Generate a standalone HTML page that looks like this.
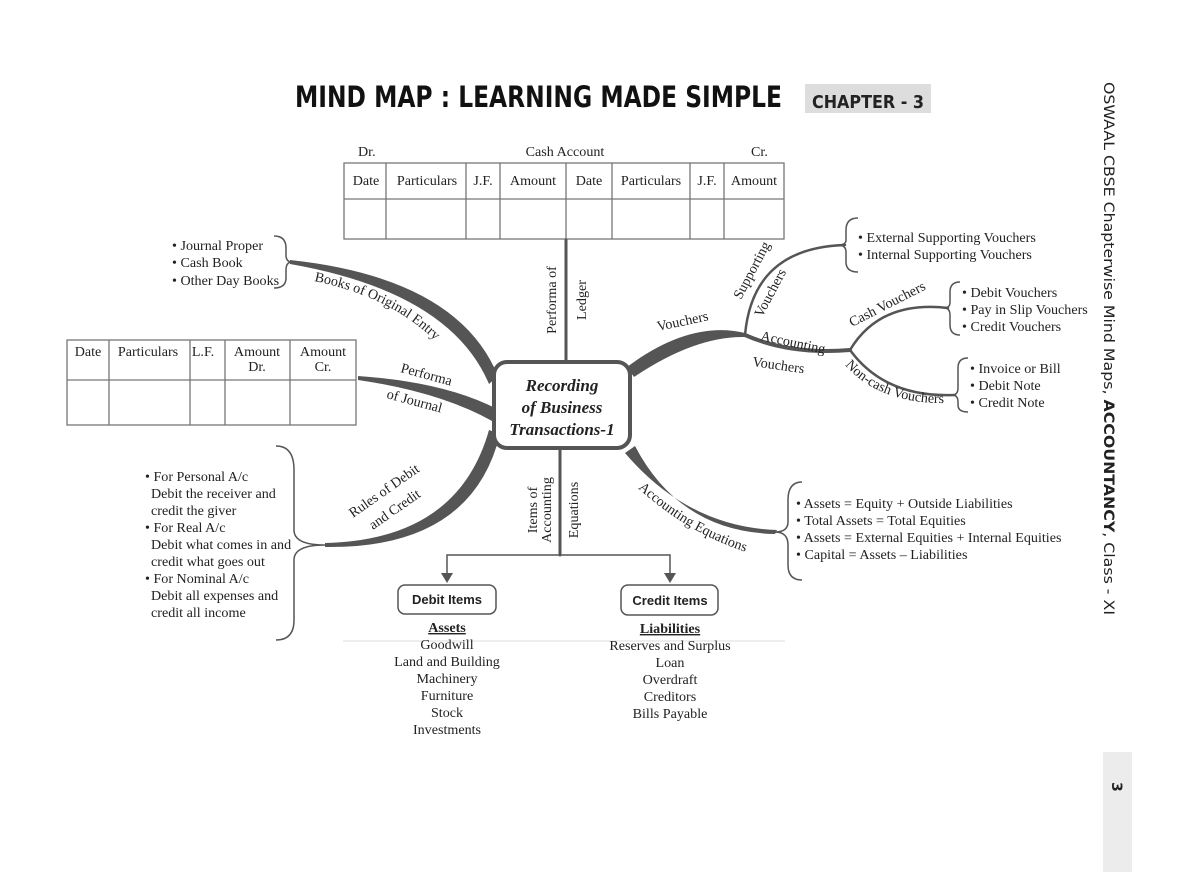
<!DOCTYPE html>
<html><head><meta charset="utf-8"><style>
html,body{margin:0;padding:0;background:#fff;}
svg{display:block;}
.t{font-family:"Liberation Serif",serif;font-size:14.1px;fill:#222;}
.c{text-anchor:middle;}
</style></head><body>
<svg width="1200" height="872" viewBox="0 0 1200 872" xmlns="http://www.w3.org/2000/svg">
<text x="295" y="107" font-family="DejaVu Sans, sans-serif" font-weight="bold" font-size="29" fill="#111" textLength="487" lengthAdjust="spacingAndGlyphs">MIND MAP : LEARNING MADE SIMPLE</text>
<rect x="805" y="84" width="126" height="29" fill="#ddd"/>
<text x="812" y="108" font-family="DejaVu Sans, sans-serif" font-weight="bold" font-size="18" fill="#222" textLength="112" lengthAdjust="spacingAndGlyphs">CHAPTER - 3</text>
<text transform="translate(1104,82) rotate(90)" font-family="DejaVu Sans, sans-serif" font-size="14" fill="#222" textLength="533" lengthAdjust="spacingAndGlyphs">OSWAAL CBSE Chapterwise Mind Maps, <tspan font-weight="bold">ACCOUNTANCY</tspan>, Class - XI</text>
<rect x="1103" y="752" width="29" height="120" fill="#ececec"/>
<text transform="translate(1112,782) rotate(90)" font-family="DejaVu Sans, sans-serif" font-weight="bold" font-size="14" fill="#222">3</text>

<g class="t">
<text x="358" y="156">Dr.</text><text x="565" y="156" class="c">Cash Account</text><text x="751" y="156">Cr.</text>
</g>
<g fill="none" stroke="#777" stroke-width="1.3">
<rect x="344" y="163" width="440" height="76"/>
<line x1="344" y1="199" x2="784" y2="199"/>
<line x1="386" y1="163" x2="386" y2="239"/><line x1="466" y1="163" x2="466" y2="239"/>
<line x1="500" y1="163" x2="500" y2="239"/><line x1="566" y1="163" x2="566" y2="239"/>
<line x1="612" y1="163" x2="612" y2="239"/><line x1="690" y1="163" x2="690" y2="239"/>
<line x1="724" y1="163" x2="724" y2="239"/>
</g>
<g class="t c">
<text x="366" y="185">Date</text><text x="427" y="185">Particulars</text><text x="483" y="185">J.F.</text><text x="533" y="185">Amount</text>
<text x="589" y="185">Date</text><text x="651" y="185">Particulars</text><text x="707" y="185">J.F.</text><text x="754" y="185">Amount</text>
</g>

<g fill="none" stroke="#777" stroke-width="1.3">
<rect x="67" y="340" width="289" height="85"/>
<line x1="67" y1="380" x2="356" y2="380"/>
<line x1="109" y1="340" x2="109" y2="425"/><line x1="190" y1="340" x2="190" y2="425"/>
<line x1="225" y1="340" x2="225" y2="425"/><line x1="290" y1="340" x2="290" y2="425"/>
</g>
<g class="t c">
<text x="88" y="356">Date</text><text x="148" y="356">Particulars</text><text x="203" y="356">L.F.</text>
<text x="257" y="356">Amount</text><text x="257" y="371">Dr.</text>
<text x="323" y="356">Amount</text><text x="323" y="371">Cr.</text>
</g>

<g fill="#555">
<path d="M290,260 Q458,278 498,376 L489,384 Q450,292 290,264 Z"/>
<path d="M358,376 Q445,382 497,409 L492,421 Q440,392 358,380 Z"/>
<path d="M325,543 Q458,540 489,430 L500,434 Q472,549 325,547 Z"/>
<path d="M627,367 Q690,320 745,333 L745,337 Q695,336 634,377 Z"/>
<path d="M625,453 Q688,527 777,530 L775,534 Q680,532 635,446 Z"/>
</g>
<g fill="none" stroke="#555" stroke-linecap="round">
<line x1="566" y1="240" x2="566" y2="362" stroke-width="3"/>
<line x1="560" y1="448" x2="560" y2="555" stroke-width="3"/>
<path d="M745,335 Q790,355 850,350" stroke-width="4"/>
<path d="M745,335 C750,280 780,247 845,245" stroke-width="2.5"/>
<path d="M850,350 Q880,300 948,308" stroke-width="2.5"/>
<path d="M850,350 Q885,398 955,395" stroke-width="2.5"/>
</g>
<rect x="494" y="362" width="136" height="86" rx="13" fill="#fff" stroke="#555" stroke-width="4"/>
<g font-family="Liberation Serif, serif" font-style="italic" font-weight="bold" font-size="17" fill="#222" text-anchor="middle">
<text x="562" y="391">Recording</text><text x="562" y="413">of Business</text><text x="562" y="435">Transactions-1</text>
</g>

<defs>
<path id="p1" d="M314,281 Q398,298 444,350"/>
<path id="p2" d="M845,365 Q880,405 950,403"/>
<path id="p3" d="M638,488 Q688,534 752,554"/>
</defs>
<g class="t">
<text><textPath href="#p1">Books of Original Entry</textPath></text>
<text transform="translate(400,372) rotate(15)">Performa</text>
<text transform="translate(386,398) rotate(15)">of Journal</text>
<text transform="translate(353,518) rotate(-35)">Rules of Debit</text>
<text transform="translate(373,530) rotate(-35)">and Credit</text>
<text transform="translate(556,300) rotate(-90)" class="c">Performa of</text>
<text transform="translate(586,300) rotate(-90)" class="c">Ledger</text>
<text transform="translate(537,510) rotate(-90)" class="c">Items of</text>
<text transform="translate(551,510) rotate(-90)" class="c">Accounting</text>
<text transform="translate(578,510) rotate(-90)" class="c">Equations</text>
<text transform="translate(658,331) rotate(-12)">Vouchers</text>
<text transform="translate(741,300) rotate(-62)">Supporting</text>
<text transform="translate(762,318) rotate(-62)">Vouchers</text>
<text transform="translate(760,340) rotate(12)">Accounting</text>
<text transform="translate(752,366) rotate(8)">Vouchers</text>
<text transform="translate(852,327) rotate(-27)">Cash Vouchers</text>
<text><textPath href="#p2">Non-cash Vouchers</textPath></text>
<text><textPath href="#p3">Accounting Equations</textPath></text>
</g>

<g fill="none" stroke="#555" stroke-width="1.5">
<path d="M274,236 Q286,236 286,248 L286,255 Q286,262 292,262 Q286,262 286,270 L286,278 Q286,288 274,288"/>
<path d="M276,446 Q294,446 294,470 L294,530 Q294,545 325,545 Q294,545 294,560 L294,620 Q294,640 276,640"/>
<path d="M858,218 Q846,218 846,230 L846,240 Q846,245 838,245 Q846,245 846,252 L846,262 Q846,272 858,272"/>
<path d="M960,282 Q950,282 950,292 L950,302 Q950,308 944,308 Q950,308 950,315 L950,325 Q950,335 960,335"/>
<path d="M968,358 Q958,358 958,368 L958,388 Q958,395 952,395 Q958,395 958,402 L958,405 Q958,412 968,412"/>
<path d="M802,482 Q788,482 788,500 L788,522 Q788,532 775,532 Q788,532 788,545 L788,565 Q788,580 802,580"/>
</g>

<g class="t">
<text x="172" y="250">• Journal Proper</text><text x="172" y="267">• Cash Book</text><text x="172" y="285">• Other Day Books</text>
<text x="858" y="242">• External Supporting Vouchers</text><text x="858" y="259">• Internal Supporting Vouchers</text>
<text x="962" y="297">• Debit Vouchers</text><text x="962" y="314">• Pay in Slip Vouchers</text><text x="962" y="331">• Credit Vouchers</text>
<text x="970" y="373">• Invoice or Bill</text><text x="970" y="390">• Debit Note</text><text x="970" y="407">• Credit Note</text>
<text x="796" y="508">• Assets = Equity + Outside Liabilities</text>
<text x="796" y="525">• Total Assets = Total Equities</text>
<text x="796" y="542">• Assets = External Equities + Internal Equities</text>
<text x="796" y="559">• Capital = Assets – Liabilities</text>
<text x="145" y="481">• For Personal A/c</text>
<text x="151" y="498">Debit the receiver and</text>
<text x="151" y="515">credit the giver</text>
<text x="145" y="532">• For Real A/c</text>
<text x="151" y="549">Debit what comes in and</text>
<text x="151" y="566">credit what goes out</text>
<text x="145" y="583">• For Nominal A/c</text>
<text x="151" y="600">Debit all expenses and</text>
<text x="151" y="617">credit all income</text>
</g>

<g fill="none" stroke="#555" stroke-width="1.5">
<polyline points="447,580 447,555 670,555 670,580"/>
</g>
<path d="M441,573 L447,583 L453,573 Z" fill="#555"/>
<path d="M664,573 L670,583 L676,573 Z" fill="#555"/>
<rect x="398" y="585" width="98" height="29" rx="7" fill="#fff" stroke="#555" stroke-width="1.5"/>
<rect x="621" y="585" width="97" height="30" rx="7" fill="#fff" stroke="#555" stroke-width="1.5"/>
<g font-family="Liberation Sans, sans-serif" font-weight="bold" font-size="13" fill="#222" text-anchor="middle">
<text x="447" y="604">Debit Items</text><text x="670" y="605">Credit Items</text>
</g>
<line x1="343" y1="641" x2="785" y2="641" stroke="#ddd" stroke-width="1"/>
<g class="t c">
<text x="447" y="632" font-weight="bold" text-decoration="underline">Assets</text>
<text x="447" y="649">Goodwill</text><text x="447" y="666">Land and Building</text><text x="447" y="683">Machinery</text>
<text x="447" y="700">Furniture</text><text x="447" y="717">Stock</text><text x="447" y="734">Investments</text>
<text x="670" y="633" font-weight="bold" text-decoration="underline">Liabilities</text>
<text x="670" y="650">Reserves and Surplus</text><text x="670" y="667">Loan</text><text x="670" y="684">Overdraft</text>
<text x="670" y="701">Creditors</text><text x="670" y="718">Bills Payable</text>
</g>
</svg>
</body></html>
